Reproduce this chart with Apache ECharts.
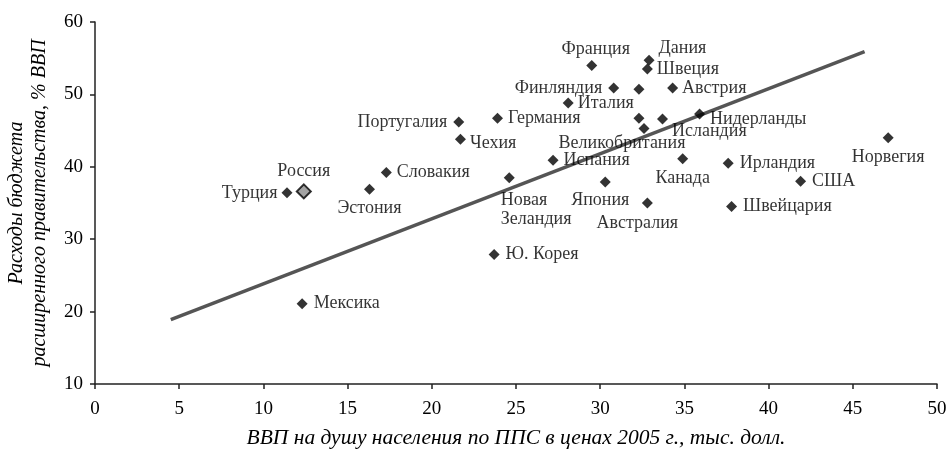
<!DOCTYPE html>
<html>
<head>
<meta charset="utf-8">
<script src="https://cdn.jsdelivr.net/npm/echarts@6/dist/echarts.min.js"></script>
<style>
  html, body { margin: 0; padding: 0; background: #fff; }
  #chart { width: 951px; height: 449px; }
</style>
</head>
<body>
<div id="chart"></div>
<script>
// ВВП на душу (тыс. долл., ППС 2005) и расходы бюджета (% ВВП)
const countries = ['Турция', 'Россия', 'Эстония', 'Словакия', 'Португалия', 'Чехия', 'Германия',
  'Франция', 'Дания', 'Швеция', 'Финляндия', '', 'Австрия', 'Италия', ' ', 'Великобритания',
  'Исландия', 'Нидерланды', 'Норвегия', 'Испания', 'Канада', 'Ирландия', 'США',
  'Новая\nЗеландия', 'Япония', 'Австралия', 'Швейцария', 'Ю. Корея', 'Мексика']
const gdp = [11.4, 12.4, 16.3, 17.3, 21.6, 21.7, 23.9,
  29.5, 32.9, 32.8, 30.8, 32.3, 34.3, 28.1, 32.3, 32.6,
  33.7, 35.9, 47.1, 27.2, 34.9, 37.6, 41.9,
  24.6, 30.3, 32.8, 37.8, 23.7, 12.3]
const spending = [36.4, 36.6, 36.9, 39.2, 46.2, 43.8, 46.7,
  54.0, 54.7, 53.5, 50.9, 50.7, 50.9, 48.8, 46.7, 45.3,
  46.6, 47.3, 44.0, 40.9, 41.1, 40.5, 38.0,
  38.5, 37.9, 35.0, 34.5, 27.9, 21.1]
// линия тренда (концы)
const trendX = [4.5, 45.7]
const trendY = [18.9, 55.9]

const serif = 'Liberation Serif'
const textColor = '#000'

// где стоят подписи точек
const labelPlace = {
  'Турция': { position: 'left', distance: 4 },
  'Россия': { position: 'top', distance: 3 },
  'Эстония': { position: 'bottom', distance: 4 },
  'Словакия': { position: 'right', distance: 5 },
  'Португалия': { position: 'left', distance: 6 },
  'Чехия': { position: 'right', distance: 4 },
  'Германия': { position: 'right', distance: 5 },
  'Франция': { position: 'top', distance: 1 },
  'Дания': { position: 'right', distance: 4 },
  'Швеция': { position: 'right', distance: 4 },
  'Финляндия': { position: 'left', distance: 6 },
  'Австрия': { position: 'right', distance: 4 },
  'Италия': { position: 'right', distance: 4 },
  'Великобритания': { position: 'bottom', distance: 0 },
  'Исландия': { position: 'right', distance: 4 },
  'Нидерланды': { position: 'right', distance: 5 },
  'Норвегия': { position: 'bottom', distance: 4 },
  'Испания': { position: 'right', distance: 5 },
  'Канада': { position: 'bottom', distance: 4 },
  'Ирландия': { position: 'right', distance: 6 },
  'США': { position: 'right', distance: 6 },
  'Новая\nЗеландия': { position: [-3, 19], align: 'left', verticalAlign: 'top' },
  'Япония': { position: 'bottom', distance: 3 },
  'Австралия': { position: 'bottom', distance: 5 },
  'Швейцария': { position: 'right', distance: 6 },
  'Ю. Корея': { position: 'right', distance: 6 },
  'Мексика': { position: 'right', distance: 6 }
}
// сдвиги подписей, px
const labelShift = {
  'Чехия': [0, 4],
  'Франция': [4, 0],
  'Дания': [0, -12],
  'Великобритания': [-22, 0],
  'Исландия': [0, 12],
  'Нидерланды': [0, 5],
  'Япония': [-5, 0],
  'Австралия': [-10, 0]
}

const points = countries.map((name, i) => {
  const item = {
    name: name,
    value: [gdp[i], spending[i]],
    label: Object.assign({ show: name.trim() !== '' }, labelPlace[name] || {})
  }
  if (name === 'Россия') {
    item.symbolSize = 14
    item.itemStyle = { color: '#8c8c8c', borderColor: '#000', borderWidth: 2 }
  }
  return item
})

const chart = echarts.init(document.getElementById('chart'))
chart.setOption({
  animation: false,
  grid: { left: 95, right: 14, top: 22, bottom: 65, containLabel: false, outerBoundsMode: 'none' },
  xAxis: {
    type: 'value',
    min: 0,
    max: 50,
    interval: 5,
    name: 'ВВП на душу населения по ППС в ценах 2005 г., тыс. долл.',
    nameLocation: 'middle',
    nameGap: 43,
    nameTextStyle: { fontFamily: serif, fontStyle: 'italic', fontSize: 21.5, color: textColor },
    axisLine: { lineStyle: { color: '#222', width: 1.5 } },
    axisTick: { length: 5, lineStyle: { color: '#222', width: 1.5 } },
    axisLabel: { margin: 16, fontFamily: serif, fontSize: 19, color: textColor },
    splitLine: { show: false }
  },
  yAxis: {
    type: 'value',
    min: 10,
    max: 60,
    interval: 10,
    name: 'Расходы бюджета\nрасширенного правительства, % ВВП',
    nameLocation: 'middle',
    nameGap: 44,
    nameTextStyle: { fontFamily: serif, fontStyle: 'italic', fontSize: 20, lineHeight: 23, color: textColor },
    axisLine: { show: true, lineStyle: { color: '#222', width: 1.5 } },
    axisTick: { show: true, length: 5, lineStyle: { color: '#222', width: 1.5 } },
    axisLabel: { margin: 12, fontFamily: serif, fontSize: 19, color: textColor },
    splitLine: { show: false }
  },
  series: [{
    name: 'тренд',
    type: 'line',
    data: trendX.map((x, i) => [x, trendY[i]]),
    symbol: 'none',
    z: 1,
    lineStyle: { color: '#555', width: 3.5 }
  }, {
    name: 'страны',
    type: 'scatter',
    symbol: 'diamond',
    symbolSize: 11,
    z: 2,
    itemStyle: { color: '#000' },
    label: {
      formatter: '{b}',
      fontFamily: serif,
      fontSize: 18,
      lineHeight: 19,
      color: textColor
    },
    labelLayout: function (p) {
      const s = labelShift[countries[p.dataIndex]] || [0, 0]
      return { dx: s[0], dy: s[1], hideOverlap: false }
    },
    data: points
  }]
})
</script>
</body>
</html>
